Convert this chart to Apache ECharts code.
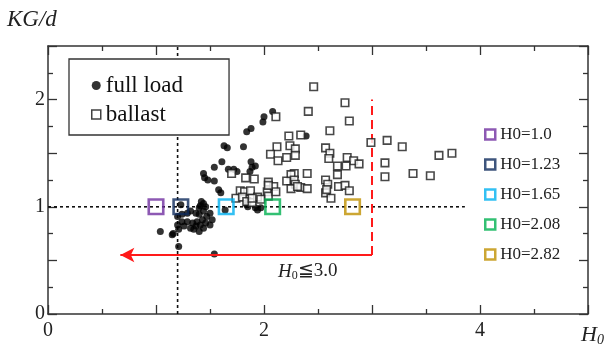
<!DOCTYPE html>
<html>
<head>
<meta charset="utf-8">
<script src="https://cdn.jsdelivr.net/npm/echarts@6/dist/echarts.min.js"></script>
<style>
html,body{margin:0;padding:0;background:#fff;}
#chart{width:606px;height:351px;}
</style>
</head>
<body>
<div id="chart"></div>
<script>
// ---- data ----
const xRange = [0, 5];
const yRange = [0, 2.5];
const xTickLabels = ['0', '2', '4'];
const yTickLabels = ['0', '1', '2'];

const fullLoad = [
  [2.08,1.89],[2.0,1.84],[1.99,1.79],[1.88,1.73],[1.84,1.70],[2.39,1.66],
  [1.63,1.57],[1.66,1.55],[1.81,1.56],
  [1.61,1.42],[1.88,1.42],[1.54,1.37],[1.89,1.37],[1.92,1.38],[1.67,1.35],[1.72,1.35],[1.75,1.33],[1.87,1.33],
  [1.44,1.31],[1.45,1.27],[1.48,1.25],[1.54,1.24],
  [1.58,1.16],[1.60,1.13],
  [1.42,1.05],[1.41,1.01],[1.44,1.03],[1.40,0.99],[1.46,1.00],[1.23,1.02],
  [1.64,0.97],[1.84,1.02],[1.85,1.00],[1.94,0.97],[1.97,0.99],[1.92,0.99],
  [1.20,0.91],[1.24,0.93],[1.29,0.94],[1.32,0.96],[1.37,0.94],[1.40,0.93],[1.44,0.96],[1.47,0.91],
  [1.43,0.88],[1.38,0.86],[1.34,0.85],[1.29,0.86],[1.24,0.86],[1.20,0.83],[1.26,0.82],[1.32,0.80],
  [1.37,0.82],[1.41,0.83],[1.46,0.85],[1.44,0.80],[1.40,0.77],[1.35,0.79],[1.21,0.79],[1.16,0.75],
  [1.15,0.74],[1.50,0.83],[1.52,0.88],[1.50,0.94],
  [1.04,0.77],[1.21,0.63],[1.54,0.56]
];

const ballast = [
  [2.46,2.12],[2.75,1.97],[2.41,1.89],[2.11,1.84],[2.79,1.80],[2.61,1.71],[2.23,1.66],[2.34,1.67],
  [2.99,1.60],[3.14,1.62],[3.28,1.56],[3.62,1.48],[3.74,1.50],
  [2.12,1.56],[2.24,1.57],[2.29,1.54],[2.06,1.49],[2.13,1.43],[2.21,1.46],[2.29,1.48],
  [2.57,1.55],[2.61,1.50],[2.60,1.45],[2.77,1.46],[2.83,1.43],[2.88,1.40],[2.76,1.38],[2.68,1.38],
  [2.68,1.30],[3.12,1.41],[3.12,1.28],[3.38,1.31],[3.54,1.29],
  [1.91,1.26],[2.04,1.23],[2.09,1.19],[2.28,1.31],[2.40,1.31],[2.25,1.30],[2.21,1.24],[2.28,1.25],
  [2.29,1.21],[2.34,1.18],[2.40,1.17],[2.25,1.17],[2.31,1.19],
  [2.57,1.25],[2.59,1.21],[2.57,1.13],[2.69,1.19],[2.75,1.20],[2.79,1.15],[2.62,1.08],[2.58,1.16],
  [1.70,1.31],[1.83,1.27],[1.78,1.15],[1.82,1.14],[1.875,1.15],[1.74,1.08],[1.80,1.09],[1.84,1.05],
  [1.89,1.04],[1.94,1.09],[2.03,1.14],[2.04,1.10],[2.11,1.14],[2.04,1.20],[1.89,1.08],[1.97,1.07]
];

const h0Labels = ['H0=1.0', 'H0=1.23', 'H0=1.65', 'H0=2.08', 'H0=2.82'];
const h0Values = [1.0, 1.23, 1.65, 2.08, 2.82];
const h0KG = 1.0;

const refKG = 1.0;          // horizontal dotted line level
const refKGEnd = 3.86;      // end of horizontal dotted line
const refH0 = 1.2;          // vertical dotted line
const limitH0 = 3.0;        // red dashed limit
const limitTop = 2.0;
const arrowKG = 0.55;
const arrowTipH0 = 0.67;

// ---- styles ----
const h0Colors = ['#7030A0', '#0E2A5C', '#00B0F0', '#00B050', '#BF9000'];
const serif = '"Liberation Serif","Times New Roman",serif';
const axisColor = '#333';

const chart = echarts.init(document.getElementById('chart'), null, {renderer: 'canvas'});

const baseAxis = {
  axisLine: {show: true, onZero: false, lineStyle: {color: axisColor, width: 1.5}},
  axisTick: {show: true, inside: true, length: 9, lineStyle: {color: axisColor, width: 1.3}},
  minorTick: {show: true, splitNumber: 2, length: 5, lineStyle: {color: axisColor, width: 1.3}},
  splitLine: {show: false},
  minorSplitLine: {show: false}
};

const h0Series = h0Values.map((v, i) => ({
  name: h0Labels[i],
  type: 'scatter',
  symbol: 'rect',
  symbolSize: 14.5,
  z: 5,
  itemStyle: {color: 'rgba(255,255,255,0)', borderColor: h0Colors[i], borderWidth: 2.6},
  data: [[v, h0KG]]
}));

const option = {
  backgroundColor: '#fff',
  animation: false,
  grid: {left: 48, right: 18, top: 46, bottom: 37, containLabel: false},
  xAxis: [
    Object.assign({}, baseAxis, {
      type: 'value', min: xRange[0], max: xRange[1], interval: 1, position: 'bottom',
      axisLabel: {
        show: true, margin: 7, color: '#222', fontFamily: serif, fontSize: 20,
        formatter: v => xTickLabels.includes(String(v)) ? String(v) : ''
      }
    }),
    Object.assign({}, baseAxis, {
      type: 'value', min: xRange[0], max: xRange[1], interval: 1, position: 'top',
      axisLabel: {show: false}
    })
  ],
  yAxis: [
    Object.assign({}, baseAxis, {
      type: 'value', min: yRange[0], max: yRange[1], interval: 0.5, position: 'left',
      axisLabel: {
        show: true, margin: 3, color: '#222', fontFamily: serif, fontSize: 20,
        formatter: v => yTickLabels.includes(String(v)) ? String(v) : ''
      }
    }),
    Object.assign({}, baseAxis, {
      type: 'value', min: yRange[0], max: yRange[1], interval: 0.5, position: 'right',
      axisLabel: {show: false}
    })
  ],
  legend: [
    {
      data: [
        {name: 'full load', icon: 'circle', itemStyle: {color: '#000'}},
        {name: 'ballast', icon: 'rect', itemStyle: {color: '#fff', borderColor: '#111', borderWidth: 1.5}}
      ],
      orient: 'vertical', left: 69, top: 59,
      padding: [15, 46, 9, 22],
      itemGap: 6, itemWidth: 9, itemHeight: 9,
      backgroundColor: '#fff', borderColor: '#333', borderWidth: 1.3, borderRadius: 0,
      selectedMode: false,
      textStyle: {fontFamily: serif, fontSize: 23, color: '#111', lineHeight: 22}
    },
    {
      data: h0Labels.map((n, i) => ({name: n, icon: 'rect',
        itemStyle: {color: '#fff', borderColor: h0Colors[i], borderWidth: 2.5}})),
      orient: 'vertical', left: 484, top: 126,
      padding: 0, itemGap: 13, itemWidth: 10, itemHeight: 10,
      selectedMode: false,
      textStyle: {fontFamily: serif, fontSize: 17, color: '#222', lineHeight: 17}
    }
  ],
  graphic: [
    {type: 'text', left: 7, top: 8,
      style: {text: 'KG/d', font: 'italic 23px ' + serif, fill: '#222'}},
    {type: 'text', left: 581, top: 324,
      style: {text: '{h|H}{s|0}', rich: {
        h: {font: 'italic 22px ' + serif, fill: '#222'},
        s: {font: 'italic 14px ' + serif, fill: '#222', padding: [10, 0, 0, 0]}
      }}},
    {type: 'text', left: 278, top: 262,
      style: {text: '{h|H}{s|0}{t|≦3.0}', rich: {
        h: {font: 'italic 19px ' + serif, fill: '#222'},
        s: {font: '12px ' + serif, fill: '#222', padding: [9, 0, 0, 0]},
        t: {font: '19px ' + serif, fill: '#222'}
      }}}
  ],
  series: [
    {
      type: 'line', symbol: 'none', silent: true, z: 1,
      lineStyle: {color: '#111', width: 1.6, type: [3, 3]},
      data: [[0, refKG], [refKGEnd, refKG]]
    },
    {
      type: 'line', symbol: 'none', silent: true, z: 1,
      lineStyle: {color: '#111', width: 1.6, type: [3, 3]},
      data: [[refH0, yRange[0]], [refH0, yRange[1]]]
    },
    {
      type: 'line', symbol: 'none', silent: true, z: 1,
      lineStyle: {color: '#FF1A1A', width: 2, type: [9, 5]},
      data: [[limitH0, arrowKG], [limitH0, limitTop]],
      markLine: {
        silent: true, animation: false,
        symbol: ['arrow', 'none'], symbolSize: [11, 14],
        label: {show: false},
        lineStyle: {color: '#FF1A1A', width: 2, type: 'solid'},
        data: [[{coord: [arrowTipH0, arrowKG]}, {coord: [limitH0, arrowKG]}]]
      }
    },
    {
      name: 'full load', type: 'scatter', symbol: 'circle', symbolSize: 7, z: 3,
      itemStyle: {color: '#000'},
      data: fullLoad
    },
    {
      name: 'ballast', type: 'scatter', symbol: 'rect', symbolSize: 7.5, z: 4,
      itemStyle: {color: '#fff', borderColor: '#1a1a1a', borderWidth: 1.6},
      data: ballast
    }
  ].concat(h0Series)
};

chart.setOption(option);
</script>
</body>
</html>
